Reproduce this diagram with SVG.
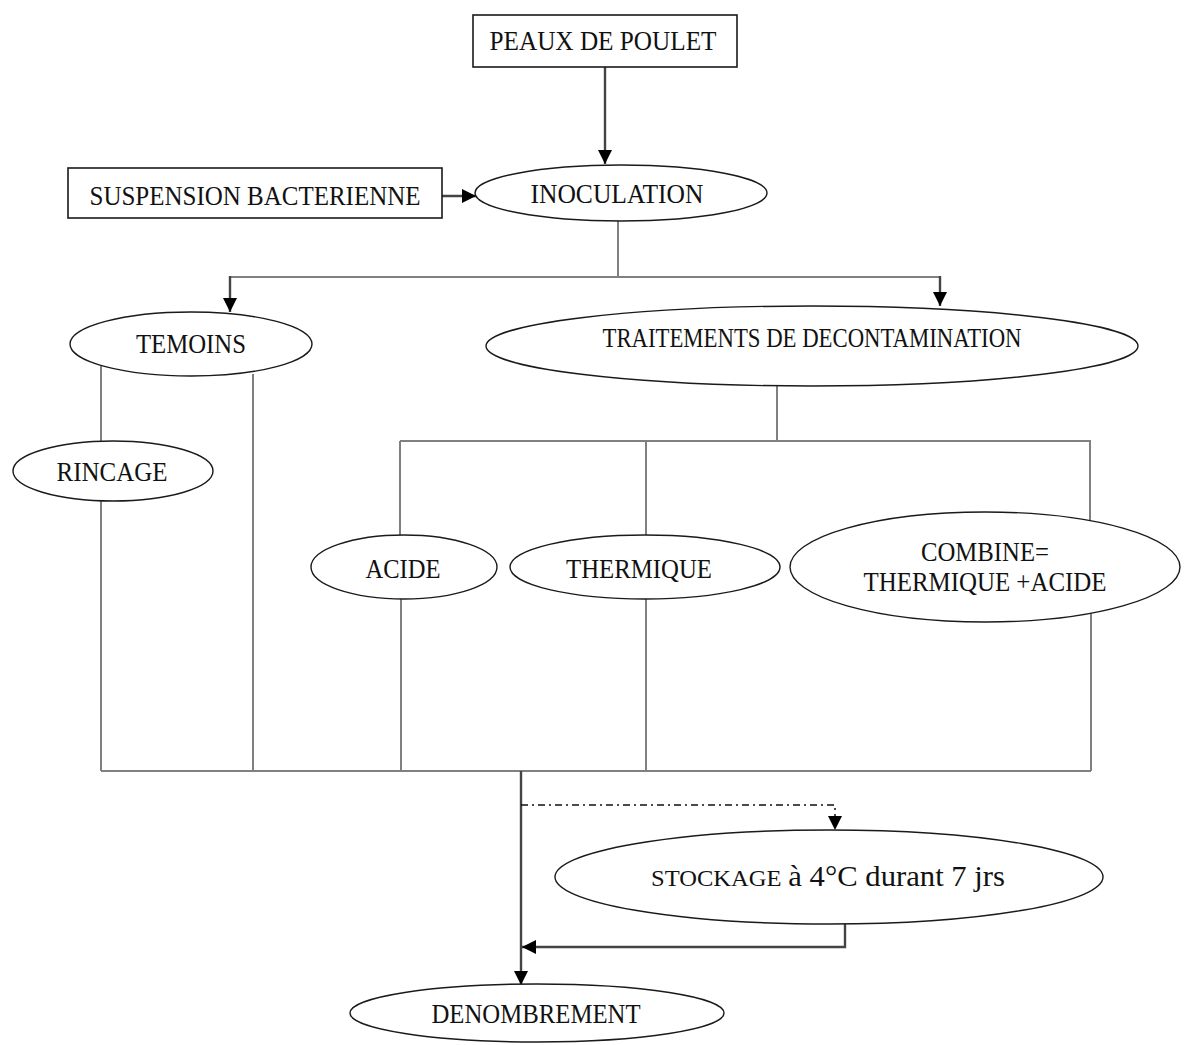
<svg xmlns="http://www.w3.org/2000/svg" width="1184" height="1045" viewBox="0 0 1184 1045">
<defs>
<marker id="ah" markerUnits="userSpaceOnUse" markerWidth="14" markerHeight="14" viewBox="0 0 14 14" refX="14" refY="7" orient="auto">
<path d="M0,0 L14,7 L0,14 Z" fill="#000"/>
</marker>
</defs>
<style>
.box{fill:#fff;stroke:#1a1a1a;stroke-width:1.6}
.ell{fill:#fff;stroke:#1a1a1a;stroke-width:1.4}
.t{font-family:"Liberation Serif","Times New Roman",serif;font-size:27px;fill:#111;text-anchor:middle}
.ln{fill:none;stroke:#808080;stroke-width:2}
.ar{fill:none;stroke:#444;stroke-width:2.4}
.dd{fill:none;stroke:#111;stroke-width:1.5;stroke-dasharray:7,4,2,4}
</style>
<rect width="1184" height="1045" fill="#fff"/>
<g id="connectors">
<path class="ar" d="M605,67 V164" marker-end="url(#ah)"/>
<path class="ar" d="M442,196 H476" marker-end="url(#ah)"/>
<path class="ln" d="M618,219 V277 H230"/>
<path class="ar" d="M230,276 V312" marker-end="url(#ah)"/>
<path class="ln" d="M618,277 H940"/>
<path class="ar" d="M940,276 V306" marker-end="url(#ah)"/>
<path class="ln" d="M101,366 V441"/>
<path class="ln" d="M101,501 V771"/>
<path class="ln" d="M253,374 V771"/>
<path class="ln" d="M777,386 V441"/>
<path class="ln" d="M400,441 H1090 V521"/>
<path class="ln" d="M400,441 V535"/>
<path class="ln" d="M646,441 V535"/>
<path class="ln" d="M401,599 V771"/>
<path class="ln" d="M646,599 V771"/>
<path class="ln" d="M1091,613 V771"/>
<path class="ln" d="M101,771 H1091"/>
<path class="ar" d="M521,771 V985" marker-end="url(#ah)"/>
<path class="dd" d="M521,805 H835 V830" marker-end="url(#ah)"/>
<path class="ar" d="M845,924 V947 H522" marker-end="url(#ah)"/>
</g>
<g id="peaux">
<rect class="box" x="473" y="15" width="264" height="52"/>
<text class="t" x="603" y="50" textLength="227" lengthAdjust="spacingAndGlyphs">PEAUX DE POULET</text>
</g>
<g id="suspension">
<rect class="box" x="68" y="168" width="374" height="50"/>
<text class="t" x="255" y="205" textLength="331" lengthAdjust="spacingAndGlyphs">SUSPENSION BACTERIENNE</text>
</g>
<g id="inoculation">
<ellipse class="ell" cx="621" cy="193" rx="146" ry="28"/>
<text class="t" x="617" y="203" textLength="173" lengthAdjust="spacingAndGlyphs">INOCULATION</text>
</g>
<g id="temoins">
<ellipse class="ell" cx="191" cy="344" rx="121" ry="32"/>
<text class="t" x="191" y="353" textLength="110" lengthAdjust="spacingAndGlyphs">TEMOINS</text>
</g>
<g id="traitements">
<ellipse class="ell" cx="812" cy="346" rx="326" ry="40"/>
<text class="t" x="812" y="347" textLength="419" lengthAdjust="spacingAndGlyphs">TRAITEMENTS DE DECONTAMINATION</text>
</g>
<g id="rincage">
<ellipse class="ell" cx="113" cy="471" rx="100" ry="30"/>
<text class="t" x="112" y="481" textLength="111" lengthAdjust="spacingAndGlyphs">RINCAGE</text>
</g>
<g id="acide">
<ellipse class="ell" cx="404" cy="567" rx="93" ry="32"/>
<text class="t" x="403" y="578" textLength="75" lengthAdjust="spacingAndGlyphs">ACIDE</text>
</g>
<g id="thermique">
<ellipse class="ell" cx="645" cy="567" rx="135" ry="32"/>
<text class="t" x="639" y="578" textLength="146" lengthAdjust="spacingAndGlyphs">THERMIQUE</text>
</g>
<g id="combine">
<ellipse class="ell" cx="985" cy="567" rx="195" ry="55"/>
<text class="t" x="985" y="561" textLength="128" lengthAdjust="spacingAndGlyphs">COMBINE=</text>
<text class="t" x="985" y="591" textLength="243" lengthAdjust="spacingAndGlyphs">THERMIQUE +ACIDE</text>
</g>
<g id="stockage">
<ellipse class="ell" cx="829" cy="877" rx="274" ry="47"/>
<text class="t" x="828" y="886" textLength="354" lengthAdjust="spacingAndGlyphs"><tspan font-size="24">STOCKAGE</tspan> <tspan font-size="30">à 4°C durant 7 jrs</tspan></text>
</g>
<g id="denombrement">
<ellipse class="ell" cx="537" cy="1013" rx="187" ry="29"/>
<text class="t" x="536" y="1023" textLength="209" lengthAdjust="spacingAndGlyphs">DENOMBREMENT</text>
</g>
</svg>
